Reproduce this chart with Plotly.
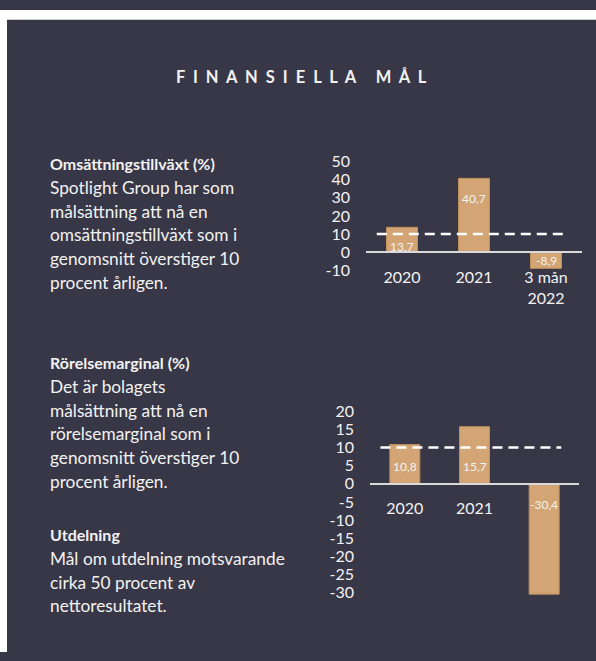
import plotly.graph_objects as go

# ---------------- data ----------------
categories_1 = ["2020", "2021", "3 mån 2022"]
tick_text_1 = ["2020", "2021", "3 mån<br>2022"]
growth_values = [13.7, 40.7, -8.9]
growth_ticks = [50, 40, 30, 20, 10, 0, -10]

categories_2 = ["2020", "2021", "3 mån 2022"]
tick_text_2 = ["2020", "2021", ""]
margin_values = [10.8, 15.7, -30.4]
margin_ticks = [20, 15, 10, 5, 0, -5, -10, -15, -20, -25, -30]

target_value = 10

title_text = "FINANSIELLA MÅL"
block1 = ["Omsättningstillväxt (%)", "Spotlight Group har som", "målsättning att nå en",
          "omsättningstillväxt som i", "genomsnitt överstiger 10", "procent årligen."]
block2 = ["Rörelsemarginal (%)", "Det är bolagets", "målsättning att nå en",
          "rörelsemarginal som i", "genomsnitt överstiger 10", "procent årligen."]
block3 = ["Utdelning", "Mål om utdelning motsvarande", "cirka 50 procent av",
          "nettoresultatet."]

# ---------------- style ----------------
W, H = 596, 661
BG = "#383747"
BAR = "#D3A574"
BAR_LINE = "#BF915F"
TXT = "#F2F2F2"
FONT = "Lato"


def px_x(x):
    return x / W


def px_y(y):
    return 1 - y / H


fig = go.Figure()


def fmt(v):
    return f"{v:.1f}".replace(".", ",")


def add_chart(idx, cats, ticktext, values, ticks, yrange, xdom_px, ydom_px,
              label_base, label_shift, standoff):
    xa = "x" if idx == 1 else f"x{idx}"
    ya = "y" if idx == 1 else f"y{idx}"
    fig.add_trace(go.Bar(x=cats, y=values, xaxis=xa, yaxis=ya,
                         marker=dict(color=BAR, line=dict(color=BAR_LINE, width=1)),
                         width=0.43, hoverinfo="skip", showlegend=False))
    ydom = [px_y(ydom_px[1]), px_y(ydom_px[0])]
    xdom = [px_x(xdom_px[0]), px_x(xdom_px[1])]
    zero_pos = ydom[0] + (0 - yrange[0]) / (yrange[1] - yrange[0]) * (ydom[1] - ydom[0])
    xkey = "xaxis" if idx == 1 else f"xaxis{idx}"
    ykey = "yaxis" if idx == 1 else f"yaxis{idx}"
    fig.update_layout(**{
        xkey: dict(domain=xdom, anchor="free", position=zero_pos,
                   range=[-0.5, 2.5], type="category",
                   tickvals=cats, ticktext=ticktext,
                   showline=True, linecolor="#D9D9D9", linewidth=1.5,
                   showgrid=False, zeroline=False, ticks="",
                   ticklabelstandoff=standoff,
                   tickfont=dict(family=FONT, size=16, color=TXT)),
        ykey: dict(domain=ydom, anchor=xa, range=yrange,
                   tickvals=ticks, ticktext=[str(t) for t in ticks],
                   showgrid=False, zeroline=False, showline=False, ticks="",
                   ticklabelstandoff=15,
                   tickfont=dict(family=FONT, size=16, color=TXT)),
    })
    # target dashed line
    fig.add_shape(type="line", xref=f"{xa} domain", yref=ya,
                  x0=0.05, x1=0.915, y0=target_value, y1=target_value,
                  line=dict(color="#FFFFFF", width=2.5, dash="10px,6px"), layer="above")
    # value labels (category index positions)
    for i, (v, base, sh) in enumerate(zip(values, label_base, label_shift)):
        fig.add_annotation(x=i, y=(v if base == "end" else 0), xref=xa, yref=ya,
                           text=fmt(v), showarrow=False, yshift=sh,
                           font=dict(family=FONT, size=12, color=TXT))


add_chart(1, categories_1, tick_text_1, growth_values, growth_ticks, [-10, 50],
          (366, 582), (156, 268), ["base", "end", "base"], [6, -20, -8], 11)
add_chart(2, categories_2, tick_text_2, margin_values, margin_ticks, [-30.6, 20],
          (370, 579), (413, 602.2), ["base", "base", "base"], [17, 17, -21], 10)

# white outer border (top and left); the panel itself is the paper background
fig.add_shape(type="rect", xref="paper", yref="paper", x0=0, x1=1,
              y0=px_y(10), y1=1, fillcolor="#FFFFFF", line=dict(width=0), layer="below")
fig.add_shape(type="rect", xref="paper", yref="paper", x0=0, x1=px_x(7),
              y0=0, y1=1, fillcolor="#FFFFFF", line=dict(width=0), layer="below")

# title
fig.add_annotation(x=px_x(301), y=px_y(69), xref="paper", yref="paper",
                   text="<b>" + "  ".join(title_text) + "</b>",
                   showarrow=False, xanchor="center", yanchor="middle",
                   font=dict(family=FONT, size=16.5, color=TXT))


def add_block(lines, y_start, step=24.5):
    for i, line in enumerate(lines):
        t = f"<b>{line}</b>" if i == 0 else line
        fig.add_annotation(x=px_x(48), y=px_y(y_start + i * step), xref="paper", yref="paper",
                           text=t, showarrow=False, xanchor="left", yanchor="middle",
                           font=dict(family=FONT, size=(16 if i == 0 else 17.3), color=TXT))


add_block(block1, 158)
add_block(block2, 363)
add_block(block3, 540)

fig.update_layout(width=W, height=H, margin=dict(l=0, r=0, t=0, b=0),
                  paper_bgcolor=BG, plot_bgcolor="rgba(0,0,0,0)",
                  bargap=0.57)

post = ("document.body.style.margin='0';"
        "document.body.style.overflow='hidden';"
        "document.documentElement.style.overflow='hidden';"
        "var d=document.getElementById('{plot_id}');"
        "d.style.position='fixed';d.style.top='0px';d.style.left='0px';")

fig.write_html("out.html", config={"displayModeBar": False}, post_script=post)
